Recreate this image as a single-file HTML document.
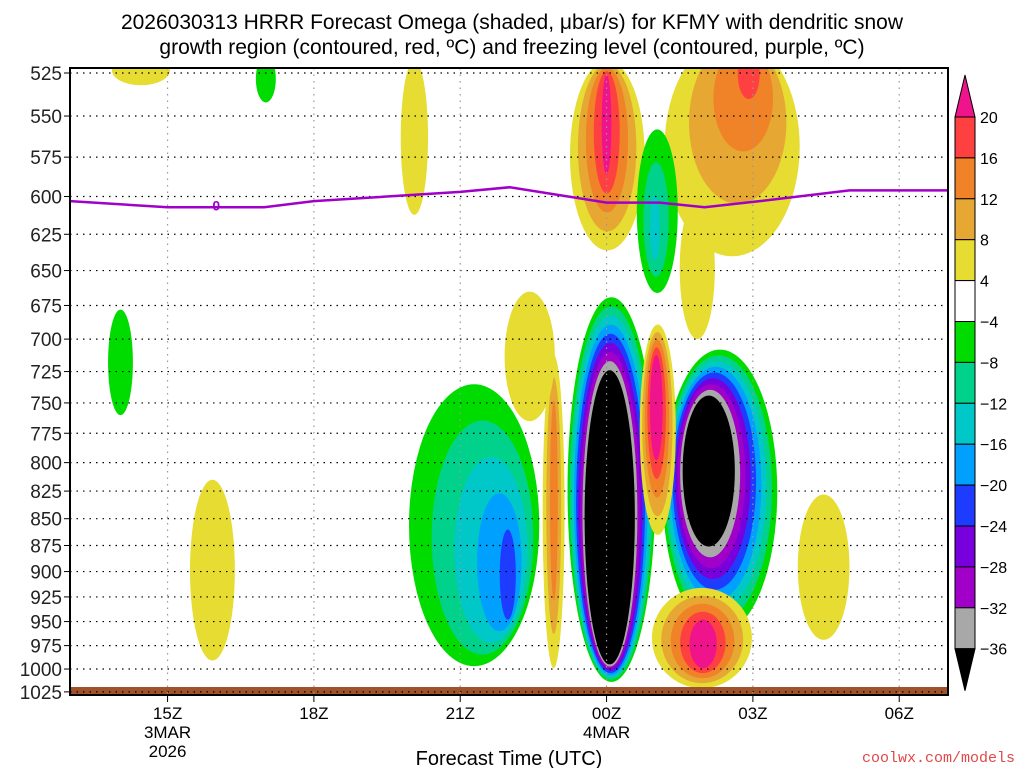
<!DOCTYPE html>
<html><head><meta charset="utf-8"><style>
body{margin:0;background:#fff;width:1024px;height:768px;overflow:hidden}
svg{display:block;font-family:"Liberation Sans",sans-serif}
</style></head><body>
<svg id="chart" width="1024" height="768" viewBox="0 0 1024 768">
<text x="512" y="29" font-size="21" text-anchor="middle">2026030313 HRRR Forecast Omega (shaded, μbar/s) for KFMY with dendritic snow</text>
<text x="512" y="54" font-size="21" text-anchor="middle">growth region (contoured, red, ºC) and freezing level (contoured, purple, ºC)</text>
<defs><clipPath id="plotclip"><rect x="70" y="68" width="878" height="627"/></clipPath></defs>
<g id="shade" clip-path="url(#plotclip)"></g>
<g id="grid"></g>
<g id="fz" clip-path="url(#plotclip)"></g>
<g id="axes"></g>
<g id="cbar"></g>
<text x="509" y="765" font-size="20" text-anchor="middle">Forecast Time (UTC)</text>
<text x="1015" y="762" font-size="15" text-anchor="end" fill="#e04848" font-family="Liberation Mono,monospace">coolwx.com/models</text>
</svg>
<script>
// pressure levels (hPa) for y axis
const pLevels = [525,550,575,600,625,650,675,700,725,750,775,800,825,850,875,900,925,950,975,1000,1025];
// x ticks: hour since 00Z Mar 3
const xTickHours = [15,18,21,24,27,30];
const xTickLabels = ["15Z","18Z","21Z","00Z","03Z","06Z"];
// omega blobs: outer box [h0,h1,pTop,pBot], inner box, peak value
const blobOuterH0 = [23.2,25.15,19.95,23.25,25.19,24.68,24.93,22.69,21.91,24.62,15.46,19.78,27.92,13.86,13.78,16.81,25.5];
const blobOuterH1 = [25.0,27.5,22.62,24.78,27.96,25.42,26.98,23.14,22.94,25.46,16.38,20.34,28.98,15.05,14.29,17.22,26.22];
const blobOuterPT = [669,708,735,518,505,689,916,712,665,558,815,518,828,515,678,515,601];
const blobOuterPB = [1014,962,997,636,640,865,1021,999,765,666,991,612,969,532,760,542,700];
const blobInnerH0 = [23.55,25.56,21.81,23.9,26.69,24.89,25.7,22.84,22.2,24.89,15.8,19.95,28.3,14.3,13.95,16.95,25.7];
const blobInnerH1 = [24.58,26.63,22.14,24.1,27.14,25.15,26.26,23.0,22.6,25.09,16.1,20.15,28.6,14.6,14.1,17.1,26.0];
const blobInnerPT = [724,744,860,526,512,712,948,748,690,599,850,540,860,518,700,520,620];
const blobInnerPB = [995,876,948,586,540,798,999,928,740,643,950,590,930,528,740,535,680];
const blobPeak = [-40,-40,-22,22,18,22,22,14,6,-14,6,6,6,6,-6,-6,6];
// freezing level line
const fzHours = [13,15,16.98,18,21,22.02,24,25.09,26.01,27.14,28.98,31];
const fzPress = [603,607,607,603,597,594,604,604,607,603,596,596];
// colour scale
const cbLevels = [20,16,12,8,4,-4,-8,-12,-16,-20,-24,-28,-32,-36];
const posColors = {4:"#e6dc32",8:"#e6a832",12:"#f08228",16:"#ff4040",20:"#f0148c"};
const negColors = {4:"#00dc00",8:"#00d28c",12:"#00c8c8",16:"#00a0ff",20:"#1e3cff",24:"#7800dc",28:"#a000c8",32:"#a8a8a8",36:"#000000"};

const X0=70,X1=948,H0=13,H1=31;
function xs(h){return X0+(h-H0)*(X1-X0)/(H1-H0);}
function ys(p){return 73+925*Math.log(p/525);}
const NS="http://www.w3.org/2000/svg";
function mk(tag,attrs,parent){const e=document.createElementNS(NS,tag);for(const k in attrs)e.setAttribute(k,attrs[k]);parent.appendChild(e);return e;}

const shade=document.getElementById('shade');
for(let b=0;b<blobPeak.length;b++){
  const pk=blobPeak[b], a=Math.abs(pk);
  const lv=[];for(let v=4;v<a;v+=4)lv.push(v);
  const n=lv.length;
  const o=[xs(blobOuterH0[b]),xs(blobOuterH1[b]),ys(blobOuterPT[b]),ys(blobOuterPB[b])];
  const i=[xs(blobInnerH0[b]),xs(blobInnerH1[b]),ys(blobInnerPT[b]),ys(blobInnerPB[b])];
  lv.forEach((v,k)=>{
    const t=n>1?k/(n-1):0;
    const q=o.map((ov,j)=>ov+(i[j]-ov)*t);
    const e=mk('ellipse',{cx:(q[0]+q[1])/2,cy:(q[2]+q[3])/2,rx:(q[1]-q[0])/2,ry:(q[3]-q[2])/2,fill:pk>0?posColors[v]:negColors[v]},shade);
    
    
  });
}
// ground
const g=mk('rect',{x:70,y:687,width:878,height:8,fill:"#a0522d"},shade);



const grid=document.getElementById('grid'), axes=document.getElementById('axes');
pLevels.forEach(p=>{
  const y=ys(p);
  mk('line',{x1:70,x2:948,y1:y,y2:y,stroke:"#000","stroke-width":1.2,"stroke-dasharray":"1.5 5"},grid);
  mk('line',{x1:64,x2:70,y1:y,y2:y,stroke:"#000"},axes);
  const t=mk('text',{x:62,y:y+7,"font-size":19,"text-anchor":"end",fill:"#222"},axes);
  t.textContent=p;
  
  
});
xTickHours.forEach((h,k)=>{
  const x=xs(h);
  mk('line',{x1:x,x2:x,y1:68,y2:695,stroke:"#999","stroke-width":1.2,"stroke-dasharray":"1.5 5"},grid);
  mk('line',{x1:x,x2:x,y1:695,y2:702,stroke:"#000"},axes);
  const t=mk('text',{x:x,y:719,"font-size":17,"text-anchor":"middle"},axes);
  t.textContent=xTickLabels[k];
  
  
});
[["3MAR",15,738],["2026",15,757],["4MAR",24,738]].forEach(d=>{
  const t=mk('text',{x:xs(d[1]),y:d[2],"font-size":17,"text-anchor":"middle"},axes);
  t.textContent=d[0];
  
  
});
mk('rect',{x:70,y:68,width:878,height:627,fill:"none",stroke:"#000","stroke-width":2},axes);

// freezing level
const fz=document.getElementById('fz');
const pts=fzHours.map((h,k)=>xs(h)+","+ys(fzPress[k])).join(" ");
const fl=mk('polyline',{points:pts,fill:"none",stroke:"#a000c8","stroke-width":2.5},fz);


const fzl=mk('text',{x:xs(16),y:ys(606)+5,"font-size":14,"font-weight":"bold","text-anchor":"middle",fill:"#a000c8"},fz);
fzl.textContent="0";



// colorbar
const cb=document.getElementById('cbar');
const cx0=955,cw=20,ctop=117,step=40.9;
mk('polygon',{points:`${cx0},${ctop} ${cx0+cw},${ctop} ${cx0+cw/2},${ctop-42}`,fill:"#f0148c",stroke:"#000"},cb);
for(let k=0;k<cbLevels.length-1;k++){
  const hi=cbLevels[k],lo=cbLevels[k+1];
  let col;
  if(lo>=4)col=posColors[lo];else if(hi<=-4)col=negColors[-hi];else col="#fff";
  mk('rect',{x:cx0,y:ctop+k*step,width:cw,height:step,fill:col,stroke:"#000"},cb);
}
const cbot=ctop+(cbLevels.length-1)*step;
mk('polygon',{points:`${cx0},${cbot} ${cx0+cw},${cbot} ${cx0+cw/2},${cbot+42}`,fill:"#000",stroke:"#000"},cb);
cbLevels.forEach((v,k)=>{
  const t=mk('text',{x:980,y:ctop+k*step+6,"font-size":16},cb);
  t.textContent=v<0?"\u2212"+(-v):String(v);
  
  
});
</script>
</body></html>
